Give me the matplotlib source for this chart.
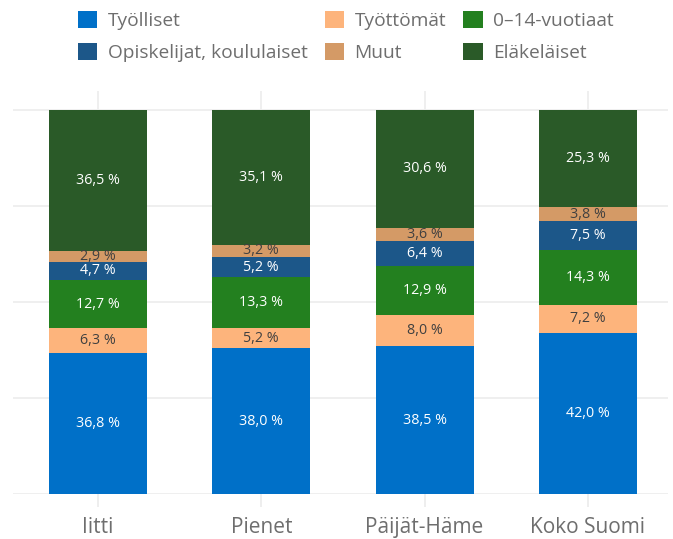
import matplotlib
matplotlib.use("Agg")
import matplotlib.pyplot as plt
import numpy as np
from matplotlib.patches import Patch

plt.rcParams['font.family'] = ['Open Sans', 'DejaVu Sans']

categories = ["Iitti", "Pienet", "Päijät-Häme", "Koko Suomi"]
series_names = ["Työlliset", "Työttömät", "0–14-vuotiaat",
                "Opiskelijat, koululaiset", "Muut", "Eläkeläiset"]
tyolliset = [36.8, 38.0, 38.5, 42.0]
tyottomat = [6.3, 5.2, 8.0, 7.2]
lapset = [12.7, 13.3, 12.9, 14.3]
opiskelijat = [4.7, 5.2, 6.4, 7.5]
muut = [2.9, 3.2, 3.6, 3.8]
elakelaiset = [36.5, 35.1, 30.6, 25.3]

series = [tyolliset, tyottomat, lapset, opiskelijat, muut, elakelaiset]
colors = ["#0070C8", "#FDB47C", "#23801F", "#1C5789", "#D49A66", "#2A5A28"]
text_colors = ["#FFFFFF", "#404040", "#FFFFFF", "#FFFFFF", "#404040", "#FFFFFF"]

fig = plt.figure(figsize=(6.73, 5.39), dpi=100)
ax = fig.add_axes([13/673, 45/539, 655/673, 403.2/539])

x = np.arange(len(categories))
bottom = np.zeros(len(categories))
for vals, col, tc in zip(series, colors, text_colors):
    vals = np.array(vals)
    ax.bar(x, vals, width=0.6, bottom=bottom, color=col, zorder=3)
    for xi, b, v in zip(x, bottom, vals):
        ax.text(xi, b + v / 2, f"{v:.1f}".replace('.', ',') + " %",
                ha='center', va='center', color=tc, fontsize=10.3,
                zorder=5)
    bottom += vals

ax.set_xlim(-0.52, 3.49)
ax.set_ylim(0, 105)
ax.set_yticks([0, 25, 50, 75, 100])
ax.set_yticklabels([])
ax.tick_params(axis='y', length=0)
ax.set_xticks(x)
ax.set_xticklabels(categories, fontsize=15, color="#6E6E6E")
ax.tick_params(axis='x', length=9.5, width=1.2, color="#EBEBEB", pad=7)
ax.grid(True, color="#EEEEEE", linewidth=1.3, zorder=0)
for s in ax.spines.values():
    s.set_visible(False)

handles = [Patch(facecolor=c, edgecolor='none') for c in colors]
order = [0, 3, 1, 4, 2, 5]
fs = 13.8
fpx = fs * 100 / 72
leg = fig.legend([handles[i] for i in order], [series_names[i] for i in order],
                 ncol=3, loc='upper left',
                 bbox_to_anchor=((78 - 0.4 * fpx) / 673, 1 - (11 - 0.4 * fpx) / 539),
                 frameon=False, fontsize=fs, handlelength=1.0, handleheight=1.0,
                 handletextpad=0.55, columnspacing=0.9, labelspacing=0.68,
                 borderaxespad=0.0)
for t in leg.get_texts():
    t.set_color("#6E6E6E")

fig.savefig("out.png", dpi=100)
